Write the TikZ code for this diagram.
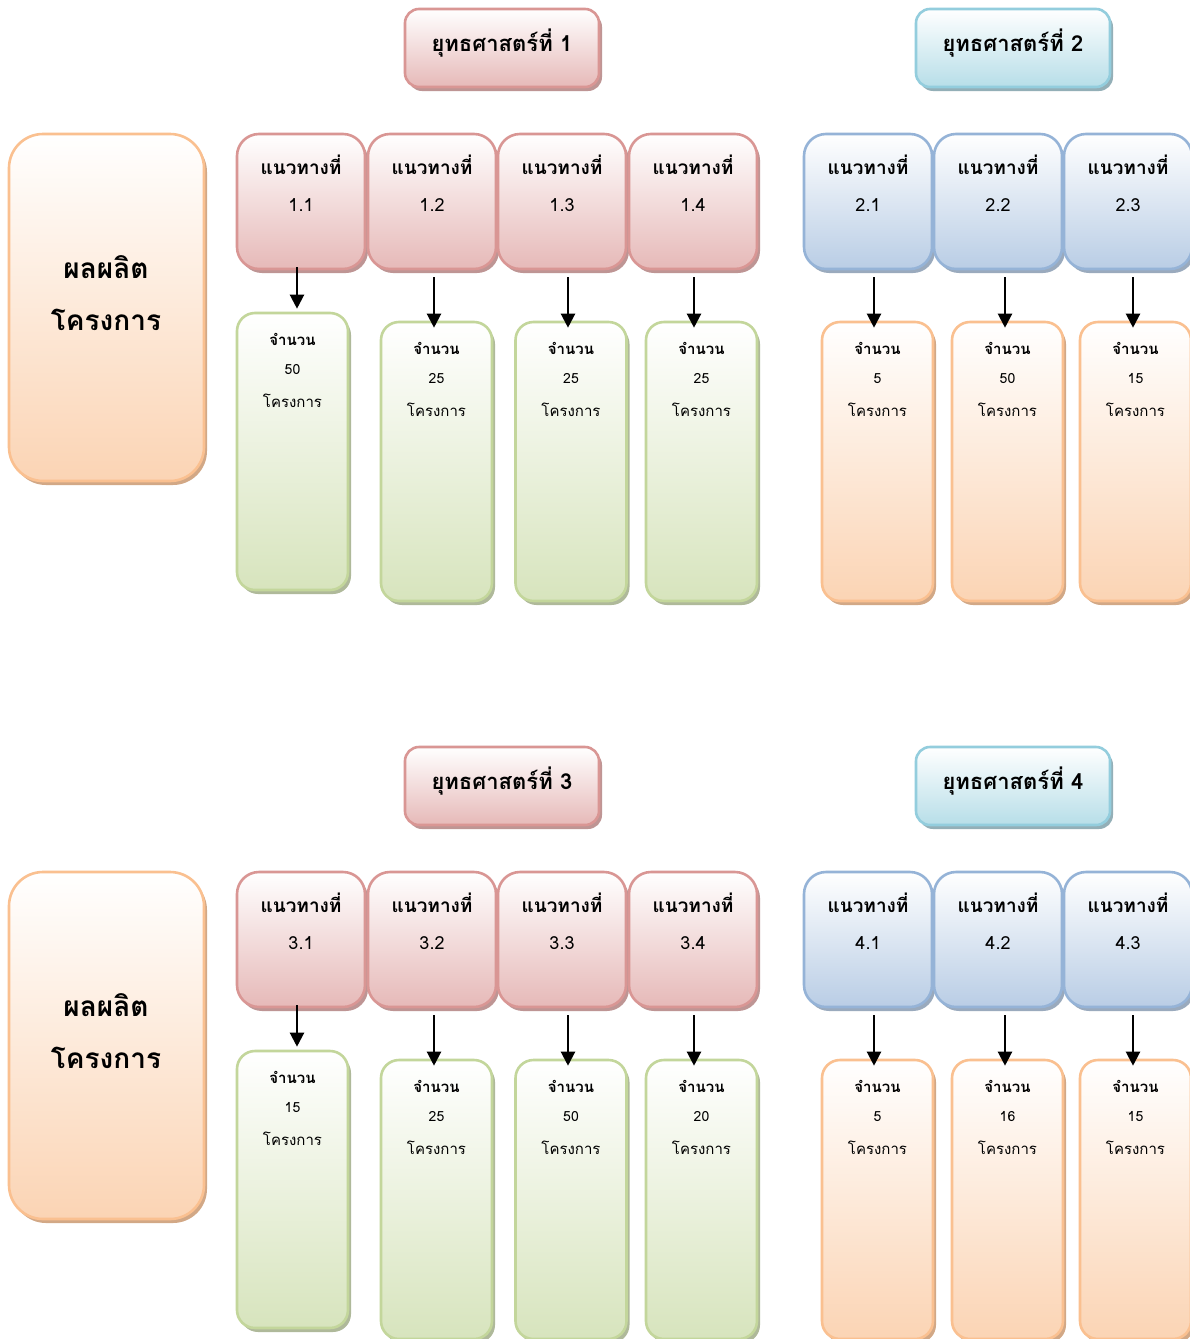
\documentclass[tikz,border=0pt]{standalone}
\usepackage{fontspec}
\setmainfont[Script=Thai]{Loma}
\usetikzlibrary{shadows,arrows.meta,calc}
\definecolor{redB}{HTML}{D99694}\definecolor{redF}{HTML}{E6B9B8}\definecolor{redS}{HTML}{BE9594}
\definecolor{bluB}{HTML}{95B3D7}\definecolor{bluF}{HTML}{B9CDE5}\definecolor{bluS}{HTML}{9AAABD}
\definecolor{grnB}{HTML}{C3D69B}\definecolor{grnF}{HTML}{D7E4BD}\definecolor{grnS}{HTML}{AFB99A}
\definecolor{orgB}{HTML}{FAC090}\definecolor{orgF}{HTML}{FBD4B4}\definecolor{orgS}{HTML}{D2A886}
\definecolor{cyaB}{HTML}{93CDDD}\definecolor{cyaF}{HTML}{B7DEE8}\definecolor{cyaS}{HTML}{93AFB7}
\tikzset{
  basebox/.style n args={3}{draw=#1, line width=2.6pt, top color=white, bottom color=#2,
     drop shadow={shadow xshift=3pt, shadow yshift=-4pt, fill=#3, opacity=1}},
  redhead/.style={basebox={redB}{redF}{redS}, rounded corners=22pt, minimum width=128pt, minimum height=135pt},
  bluhead/.style={basebox={bluB}{bluF}{bluS}, rounded corners=22pt, minimum width=128pt, minimum height=135pt},
  grncol/.style={basebox={grnB}{grnF}{grnS}, rounded corners=18pt, minimum width=111pt},
  orgcol/.style={basebox={orgB}{orgF}{orgS}, rounded corners=18pt, minimum width=111pt},
  redstrat/.style={basebox={redB}{redF}{redS}, rounded corners=14pt, minimum width=194pt, minimum height=78pt},
  cyastrat/.style={basebox={cyaB}{cyaF}{cyaS}, rounded corners=14pt, minimum width=194pt, minimum height=78pt},
  stext/.style={font=\fontsize{22pt}{26pt}\selectfont\bfseries, inner sep=0pt},
  outbox/.style={basebox={orgB}{orgF}{orgS}, rounded corners=34pt, minimum width=195pt, minimum height=347pt},
  htext/.style={font=\fontsize{19pt}{22pt}\selectfont\bfseries, inner sep=0pt},
  ntext/.style={font=\fontsize{18pt}{20pt}\selectfont, inner sep=0pt},
  ctext/.style={font=\fontsize{15pt}{18pt}\selectfont\bfseries, inner sep=0pt},
  cnum/.style={font=\fontsize{14pt}{16pt}\selectfont, inner sep=0pt},
  cword/.style={font=\fontsize{15pt}{18pt}\selectfont, inner sep=0pt},
  otext/.style={font=\fontsize{28pt}{32pt}\selectfont\bfseries, inner sep=0pt},
  arr/.style={line width=2.2pt, -{Triangle[width=14pt,length=14pt]}}
}
\newcommand\stratbox[4]{%
  \node[#2] (#1) at (#3) {};
  \node[stext] (#1t) at ([yshift=5pt]#1.center) {#4};}
\newcommand\headcol[5]{%
  \node[#2] (#1) at (#3,#4) {};
  \node[htext] (#1t) at ([yshift=-32pt]#1.north) {แนวทางที่};
  \node[ntext] (#1n) at ([yshift=-72pt]#1.north) {#5};}
\newcommand\countcol[6]{%
  \node[#2, minimum height=#5pt] (#1) at (#3,#4) {};
  \node[ctext] (#1a) at ([yshift=-28pt]#1.north) {จำนวน};
  \node[cnum] (#1b) at ([yshift=-58pt]#1.north) {#6};
  \node[cword] (#1c) at ([yshift=-89pt]#1.north) {โครงการ};}
\newcommand\linkarr[4]{%
  \draw[arr] ([xshift=#3pt,yshift=#4pt]#1.south) -- ([xshift=#3pt,yshift=#4pt]#1.south |- #2.north);}
\begin{document}
\begin{tikzpicture}[x=1pt,y=-1pt]
\clip (0,0) rectangle (1190,1339);
\fill[white] (0,0) rectangle (1190,1339);
% ---------- top half ----------
\stratbox{s1}{redstrat}{502,48}{ยุทธศาสตร์ที่ 1}
\stratbox{s2}{cyastrat}{1013,48}{ยุทธศาสตร์ที่ 2}
\node[outbox] (o1) at (106.5,307.5) {};
\node[otext] (o1a) at (106,267) {ผลผลิต};
\node[otext] (o1b) at (106,320) {โครงการ};
\headcol{h11}{redhead}{301}{201.5}{1.1}
\headcol{h12}{redhead}{432}{201.5}{1.2}
\headcol{h13}{redhead}{562}{201.5}{1.3}
\headcol{h14}{redhead}{693}{201.5}{1.4}
\headcol{h21}{bluhead}{868}{201.5}{2.1}
\headcol{h22}{bluhead}{998}{201.5}{2.2}
\headcol{h23}{bluhead}{1128}{201.5}{2.3}
\countcol{c11}{grncol}{292.5}{451.5}{277}{50}
\countcol{c12}{grncol}{436.5}{461.5}{279}{25}
\countcol{c13}{grncol}{571}{461.5}{279}{25}
\countcol{c14}{grncol}{701.5}{461.5}{279}{25}
\countcol{c21}{orgcol}{877.5}{461.5}{279}{5}
\countcol{c22}{orgcol}{1007.5}{461.5}{279}{50}
\countcol{c23}{orgcol}{1135.5}{461.5}{279}{15}
\linkarr{h11}{c11}{-4}{3}
\linkarr{h12}{c12}{2}{-7}
\linkarr{h13}{c13}{6}{-7}
\linkarr{h14}{c14}{1}{-7}
\linkarr{h21}{c21}{6}{-7}
\linkarr{h22}{c22}{7}{-7}
\linkarr{h23}{c23}{5}{-7}
% ---------- bottom half ----------
\stratbox{s3}{redstrat}{502,786}{ยุทธศาสตร์ที่ 3}
\stratbox{s4}{cyastrat}{1013,786}{ยุทธศาสตร์ที่ 4}
\node[outbox] (o2) at (106.5,1045.5) {};
\node[otext] (o2a) at (106,1005) {ผลผลิต};
\node[otext] (o2b) at (106,1058) {โครงการ};
\headcol{h31}{redhead}{301}{939.5}{3.1}
\headcol{h32}{redhead}{432}{939.5}{3.2}
\headcol{h33}{redhead}{562}{939.5}{3.3}
\headcol{h34}{redhead}{693}{939.5}{3.4}
\headcol{h41}{bluhead}{868}{939.5}{4.1}
\headcol{h42}{bluhead}{998}{939.5}{4.2}
\headcol{h43}{bluhead}{1128}{939.5}{4.3}
\countcol{c31}{grncol}{292.5}{1189.5}{277}{15}
\countcol{c32}{grncol}{436.5}{1199.5}{279}{25}
\countcol{c33}{grncol}{571}{1199.5}{279}{50}
\countcol{c34}{grncol}{701.5}{1199.5}{279}{20}
\countcol{c41}{orgcol}{877.5}{1199.5}{279}{5}
\countcol{c42}{orgcol}{1007.5}{1199.5}{279}{16}
\countcol{c43}{orgcol}{1135.5}{1199.5}{279}{15}
\linkarr{h31}{c31}{-4}{3}
\linkarr{h32}{c32}{2}{-7}
\linkarr{h33}{c33}{6}{-7}
\linkarr{h34}{c34}{1}{-7}
\linkarr{h41}{c41}{6}{-7}
\linkarr{h42}{c42}{7}{-7}
\linkarr{h43}{c43}{5}{-7}
\end{tikzpicture}
\end{document}
